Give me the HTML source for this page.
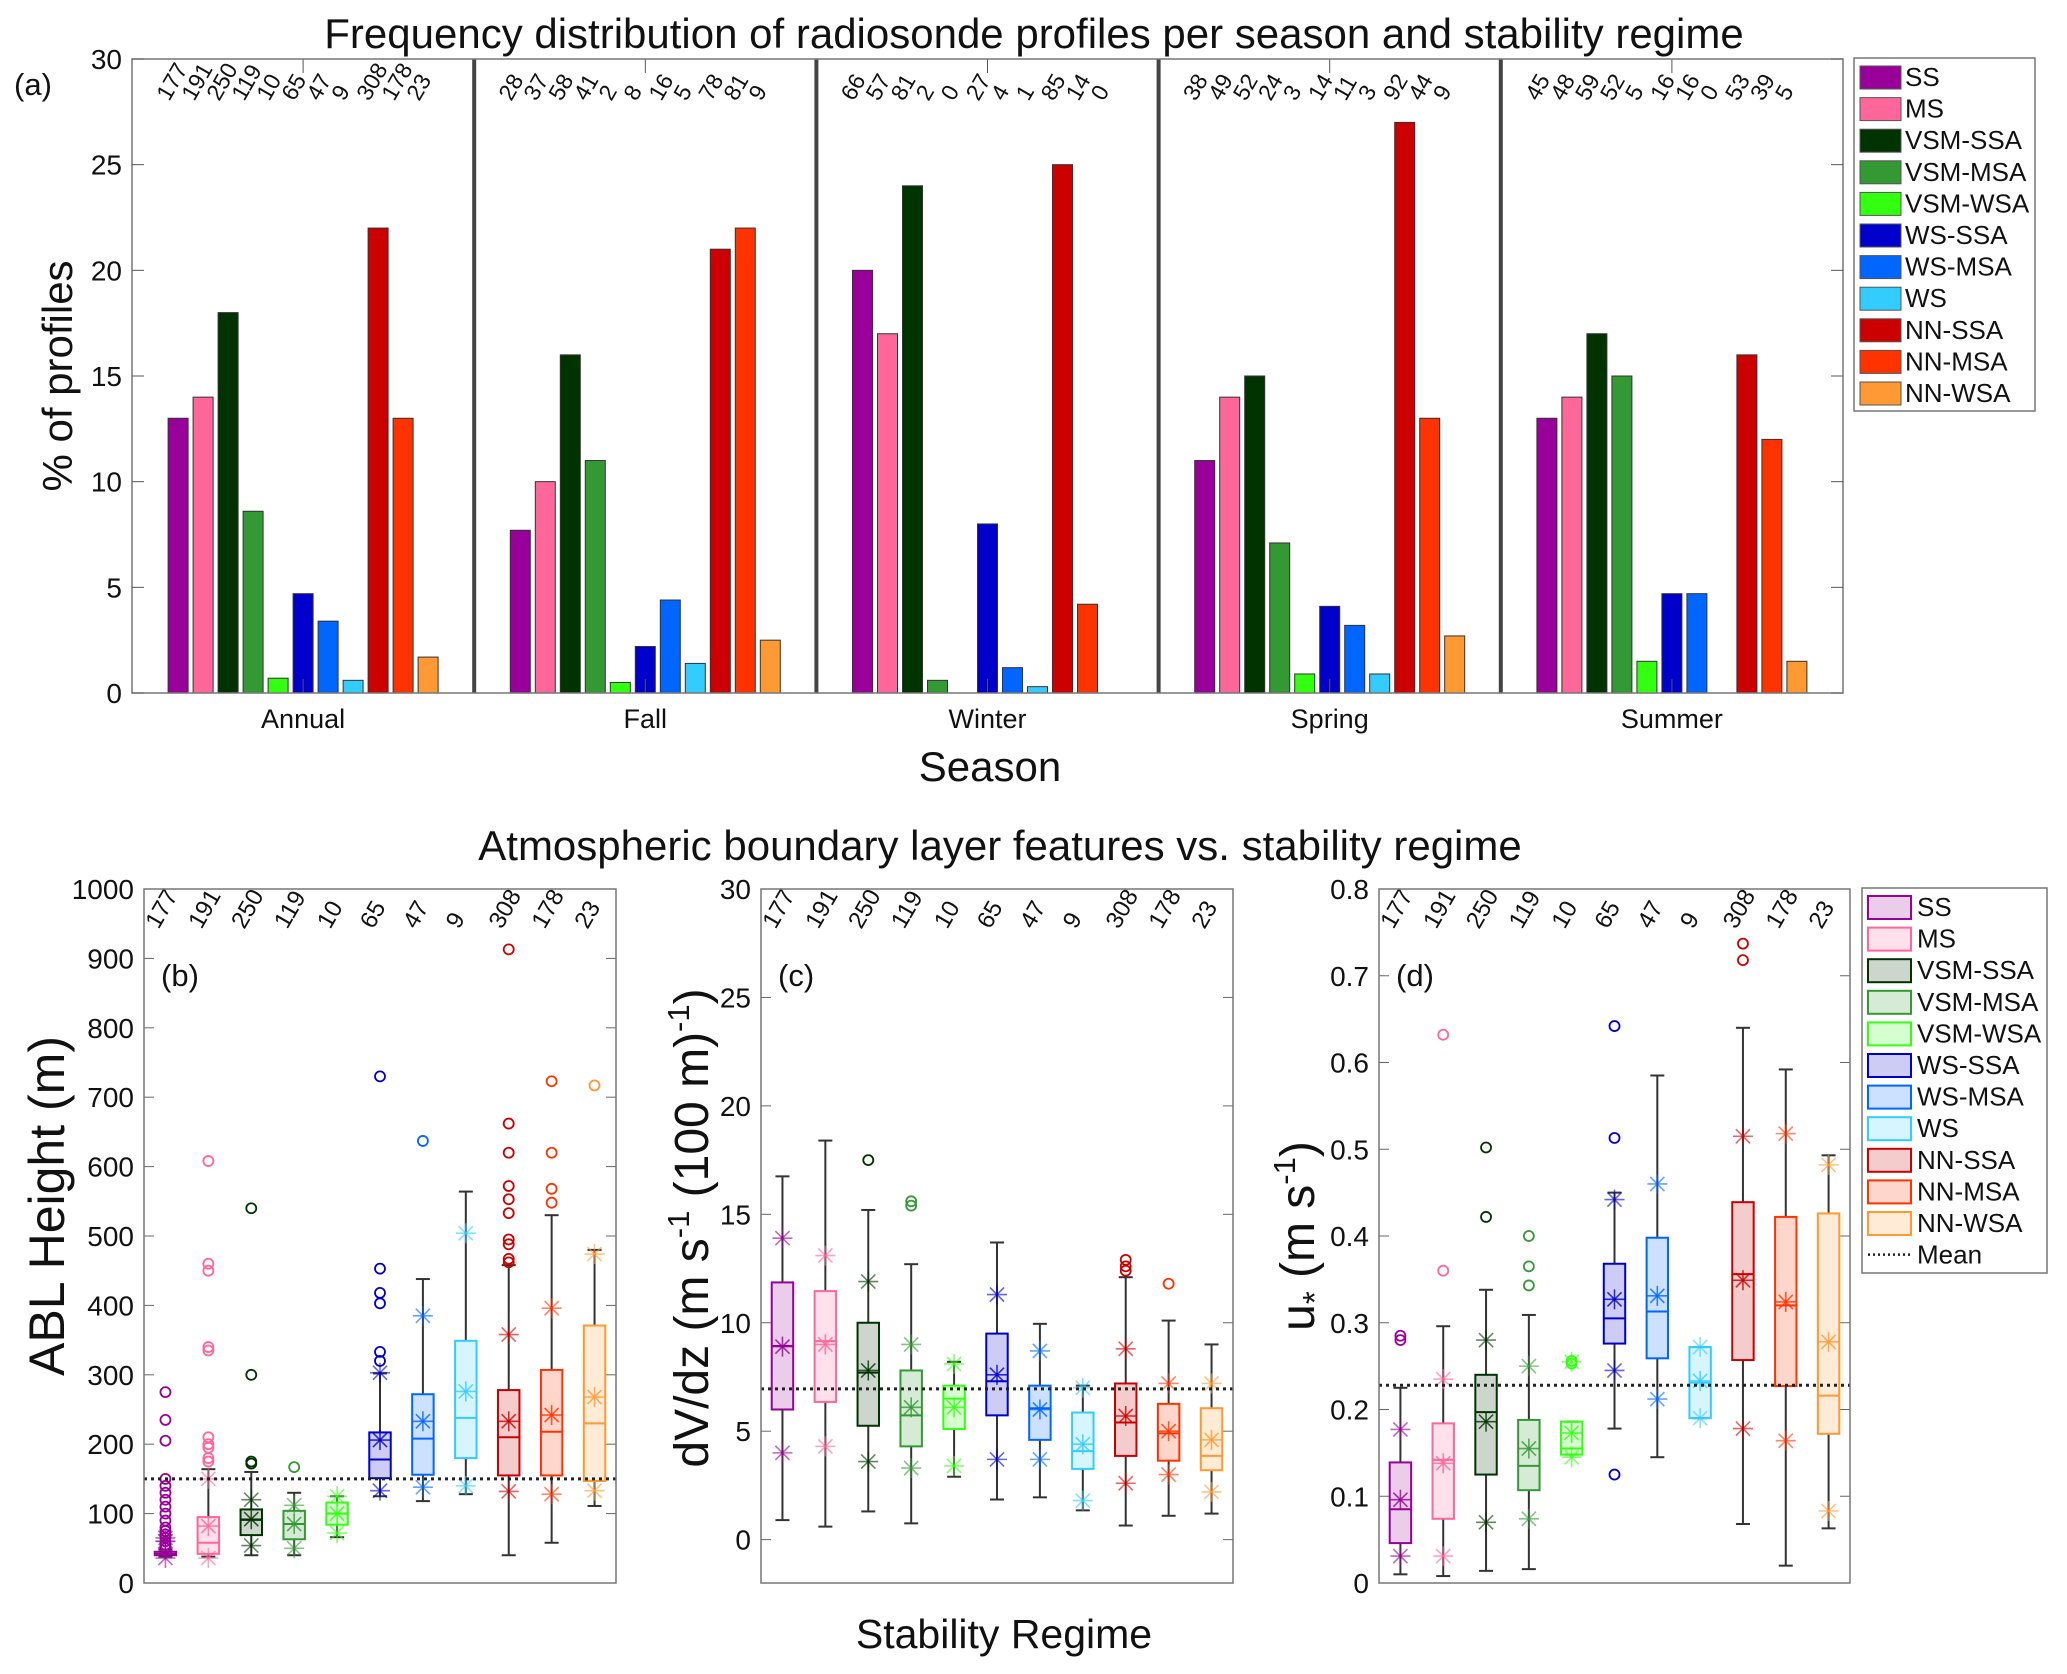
<!DOCTYPE html>
<html><head><meta charset="utf-8"><style>
html,body{margin:0;padding:0;background:#fff;}
svg{display:block;font-family:"Liberation Sans",sans-serif;}
</style></head><body>
<svg id="fig" width="2067" height="1674" viewBox="0 0 2067 1674" xmlns="http://www.w3.org/2000/svg">
<rect width="2067" height="1674" fill="#fff"/>
</svg>
<script>
// ---------- data ----------
const regimes = ["SS","MS","VSM-SSA","VSM-MSA","VSM-WSA","WS-SSA","WS-MSA","WS","NN-SSA","NN-MSA","NN-WSA"];
const colors = ["#990099","#ff6699","#003300","#339933","#33ff11","#0000cc","#0066ff","#33ccff","#cc0000","#ff3300","#ff9933"];
const seasons = ["Annual","Fall","Winter","Spring","Summer"];
const pctAnnual = [13,14,18,8.6,0.7,4.7,3.4,0.6,22,13,1.7];
const pctFall   = [7.7,10,16,11,0.5,2.2,4.4,1.4,21,22,2.5];
const pctWinter = [20,17,24,0.6,0,8,1.2,0.3,25,4.2,0];
const pctSpring = [11,14,15,7.1,0.9,4.1,3.2,0.9,27,13,2.7];
const pctSummer = [13,14,17,15,1.5,4.7,4.7,0,16,12,1.5];
const cntAnnual = [177,191,250,119,10,65,47,9,308,178,23];
const cntFall   = [28,37,58,41,2,8,16,5,78,81,9];
const cntWinter = [66,57,81,2,0,27,4,1,85,14,0];
const cntSpring = [38,49,52,24,3,14,11,3,92,44,9];
const cntSummer = [45,48,59,52,5,16,16,0,53,39,5];
const yTicksA = [0,5,10,15,20,25,30];

// box stats: [whiskerLo, q1, median, q3, whiskerHi]
const ablBox = [[38,40,42,45,48],[38,42,58,95,164],[40,69,91,106,160],[40,63,85,104,130],[66,84,100,116,125],[125,151,178,217,302],[118,156,208,272,438],[128,180,238,349,564],[40,155,210,278,458],[58,155,218,307,530],[111,147,230,371,480]];
const ablStars = [[36,60,65],[36,82,150],[54,92,120],[50,85,112],[72,100,125],[133,206,303],[138,233,385],[140,276,504],[132,233,358],[128,242,396],[133,268,474]];
const ablOut = [[50,55,60,65,70,75,80,90,100,110,120,130,140,150,205,235,275],[175,180,195,200,210,335,340,450,460,608],[172,175,300,540],[167],[],[320,333,403,418,453,730],[637],[],[462,467,488,495,533,553,572,620,662,913],[548,568,620,723],[717]];
const ablMean = 150;
const ablTicks = [0,100,200,300,400,500,600,700,800,900,1000];

const shearBox = [[0.9,6.0,8.93,11.86,16.75],[0.6,6.35,9.15,11.46,18.4],[1.3,5.25,7.7,10.0,15.2],[0.75,4.3,5.73,7.8,12.7],[2.9,5.1,6.5,7.1,8.2],[1.85,5.73,7.3,9.5,13.7],[1.95,4.6,6.06,7.1,9.95],[1.35,3.26,4.08,5.86,7.1],[0.65,3.86,5.4,7.2,12.1],[1.1,3.64,4.9,6.26,10.1],[1.2,3.2,3.86,6.06,9.0]];
const shearStars = [[4.0,8.9,13.9],[4.3,9.0,13.1],[3.6,7.8,11.9],[3.3,6.1,9.0],[3.4,6.1,8.1],[3.7,7.6,11.3],[3.7,6.0,8.7],[1.8,4.4,7.0],[2.6,5.7,8.8],[3.0,5.0,7.2],[2.2,4.6,7.2]];
const shearOut = [[],[],[17.5],[15.4,15.6],[],[],[],[],[12.4,12.6,12.9],[11.8],[]];
const shearMean = 6.95;
const shearTicks = [0,5,10,15,20,25,30];

const ustarBox = [[0.01,0.046,0.085,0.139,0.225],[0.008,0.074,0.142,0.184,0.296],[0.014,0.125,0.197,0.24,0.338],[0.016,0.107,0.135,0.188,0.309],[0.148,0.148,0.155,0.186,0.186],[0.178,0.276,0.305,0.368,0.45],[0.145,0.259,0.313,0.398,0.585],[0.19,0.19,0.231,0.272,0.272],[0.068,0.257,0.356,0.439,0.64],[0.02,0.227,0.32,0.422,0.592],[0.063,0.172,0.216,0.426,0.493]];
const ustarStars = [[0.031,0.096,0.177],[0.031,0.138,0.235],[0.07,0.186,0.28],[0.074,0.155,0.25],[0.145,0.173,0.255],[0.245,0.327,0.442],[0.212,0.331,0.46],[0.19,0.233,0.272],[0.178,0.349,0.515],[0.164,0.324,0.518],[0.083,0.278,0.482]];
const ustarOut = [[0.28,0.285],[0.36,0.632],[0.422,0.502],[0.343,0.365,0.40],[0.253,0.256],[0.125,0.513,0.642],[],[],[0.718,0.737],[],[]];
const ustarMean = 0.228;
const ustarTicks = [0,0.1,0.2,0.3,0.4,0.5,0.6,0.7,0.8];

// ---------- helpers ----------
const NS = "http://www.w3.org/2000/svg";
const svg = document.getElementById("fig");
function mk(tag, attrs, parent, text){
  const e = document.createElementNS(NS, tag);
  for (const k in attrs) e.setAttribute(k, attrs[k]);
  if (text !== undefined) e.textContent = text;
  (parent || svg).appendChild(e);
  return e;
}
function grp(name){
  const g = document.createElementNS(NS,"g");
  
  
  svg.appendChild(g);
  return g;
}

// ---------- panel (a) ----------
const A = {l:132, r:1843, t:59, b:693, ymax:30};
const gA = grp('panel-a');
const yA = v => A.b - (v / A.ymax) * (A.b - A.t);
const groupW = (A.r - A.l) / seasons.length;
const slot = 25, barW = 20;
const pctAll = [pctAnnual,pctFall,pctWinter,pctSpring,pctSummer];
const cntAll = [cntAnnual,cntFall,cntWinter,cntSpring,cntSummer];

let t = mk('text',{x:1034,y:48,'font-size':42,'text-anchor':'middle',fill:'#111'},gA,'Frequency distribution of radiosonde profiles per season and stability regime');
 

seasons.forEach((s, gi) => {
  const g0 = A.l + gi * groupW;
  const cx = g0 + groupW/2;
  const start = cx - (regimes.length * slot)/2;
  pctAll[gi].forEach((v, i) => {
    const x = start + i*slot + (slot-barW)/2;
    if (v > 0) {
      const r = mk('rect',{x:x,y:yA(v),width:barW,height:A.b - yA(v),fill:colors[i],stroke:'#333','stroke-width':1},gA);
      
      
    }
    const tx = start + i*slot + slot/2 - 9, ty = 102;
    const c = mk('text',{x:tx,y:ty,'font-size':23,fill:'#111',transform:`rotate(-60 ${tx} ${ty})`},gA,String(cntAll[gi][i]));
     
  });
  mk('line',{x1:cx,y1:A.t,x2:cx,y2:A.t+14,stroke:'#555','stroke-width':1},gA);
  mk('line',{x1:cx,y1:A.b,x2:cx,y2:A.b-14,stroke:'#555','stroke-width':1},gA);
  const sl = mk('text',{x:cx,y:728,'font-size':27,'text-anchor':'middle',fill:'#111'},gA,s);
   
  if (gi > 0) {
    const sep = mk('line',{x1:g0,y1:A.t,x2:g0,y2:A.b,stroke:'#444','stroke-width':4},gA);
     
  }
});
const frA = mk('rect',{x:A.l,y:A.t,width:A.r-A.l,height:A.b-A.t,fill:'none',stroke:'#777','stroke-width':1.5},gA);
 
yTicksA.forEach(v => {
  const y = yA(v);
  mk('line',{x1:A.l,y1:y,x2:A.l+12,y2:y,stroke:'#555'},gA);
  mk('line',{x1:A.r,y1:y,x2:A.r-12,y2:y,stroke:'#555'},gA);
  const tl = mk('text',{x:A.l-10,y:y+10,'font-size':28,'text-anchor':'end',fill:'#111'},gA,String(v));
   
});
t = mk('text',{x:72,y:376,'font-size':42,'text-anchor':'middle',fill:'#111',transform:'rotate(-90 72 376)'},gA,'% of profiles');
 
t = mk('text',{x:990,y:781,'font-size':42,'text-anchor':'middle',fill:'#111'},gA,'Season');
 
t = mk('text',{x:14,y:95,'font-size':31,fill:'#111'},gA,'(a)');
 

// legend a
const gLA = grp('legend-a');
mk('rect',{x:1854,y:58,width:181,height:353,fill:'#fff',stroke:'#777','stroke-width':1.5},gLA);
regimes.forEach((r,i) => {
  const cy = 77 + i*31.6;
  const sw = mk('rect',{x:1860,y:cy-11,width:41,height:23,fill:colors[i],stroke:'#555'},gLA);
   
  const lt = mk('text',{x:1905,y:cy+9,'font-size':26,fill:'#111'},gLA,r);
   
});

// ---------- box panels ----------
t = mk('text',{x:1000,y:860,'font-size':42,'text-anchor':'middle',fill:'#111'},svg,'Atmospheric boundary layer features vs. stability regime');
 
t = mk('text',{x:1004,y:1648,'font-size':41,'text-anchor':'middle',fill:'#111'},svg,'Stability Regime');
 

function star(g, x, y, r, col, op, sw){
  for (let k=0;k<4;k++){
    const a = k*Math.PI/4;
    const dx = r*Math.cos(a), dy = r*Math.sin(a);
    mk('line',{x1:x-dx,y1:y-dy,x2:x+dx,y2:y+dy,stroke:col,'stroke-width':sw,'stroke-opacity':op},g);
  }
}

function boxPanel(P){
  const g = grp(P.name);
  const yS = v => P.b - (v - P.ymin)/(P.ymax - P.ymin)*(P.b - P.t);
  const cw = (P.r - P.l)/regimes.length;
  const xS = i => P.l + cw*(i+0.5);
  const hw = cw*0.25;
  P.ticks.forEach(v => {
    const y = yS(v);
    mk('line',{x1:P.l,y1:y,x2:P.l+10,y2:y,stroke:'#666'},g);
    mk('line',{x1:P.r,y1:y,x2:P.r-10,y2:y,stroke:'#666'},g);
    const tl = mk('text',{x:P.l-10,y:y+10,'font-size':28,'text-anchor':'end',fill:'#111'},g,P.fmt(v));
     
  });
  P.box.forEach((b,i) => {
    const x = xS(i), col = colors[i];
    const gb = document.createElementNS(NS,'g');
    
    
    g.appendChild(gb);
    mk('line',{x1:x,y1:yS(b[0]),x2:x,y2:yS(b[1]),stroke:'#333','stroke-width':2},gb);
    mk('line',{x1:x,y1:yS(b[3]),x2:x,y2:yS(b[4]),stroke:'#333','stroke-width':2},gb);
    mk('line',{x1:x-7,y1:yS(b[0]),x2:x+7,y2:yS(b[0]),stroke:'#333','stroke-width':2},gb);
    mk('line',{x1:x-7,y1:yS(b[4]),x2:x+7,y2:yS(b[4]),stroke:'#333','stroke-width':2},gb);
    mk('rect',{x:x-hw,y:yS(b[3]),width:2*hw,height:Math.max(1,yS(b[1])-yS(b[3])),fill:col,'fill-opacity':0.2,stroke:col,'stroke-width':2},gb);
    mk('line',{x1:x-hw,y1:yS(b[2]),x2:x+hw,y2:yS(b[2]),stroke:col,'stroke-width':2},gb);
    const st = P.stars[i];
    star(gb,x,yS(st[0]),10,col,0.6,1.6);
    star(gb,x,yS(st[1]),10,col,0.8,1.6);
    star(gb,x,yS(st[2]),10,col,0.6,1.6);
    P.out[i].forEach(o => {
      const c = mk('circle',{cx:x,cy:yS(o),r:5,fill:'none',stroke:col,'stroke-width':1.8},gb);
       
    });
    const tx = x - 7, ty = 930;
    const cl = mk('text',{x:tx,y:ty,'font-size':24,fill:'#111',transform:`rotate(-60 ${tx} ${ty})`},g,String(cntAnnual[i]));
     
  });
  const ml = mk('line',{x1:P.l,y1:yS(P.mean),x2:P.r,y2:yS(P.mean),stroke:'#222','stroke-width':3,'stroke-dasharray':'3 4'},g);
   
  const fr = mk('rect',{x:P.l,y:P.t,width:P.r-P.l,height:P.b-P.t,fill:'none',stroke:'#777','stroke-width':1.5},g);
   
  const pl = mk('text',{x:P.l+17,y:986,'font-size':31,fill:'#111'},g,P.letter);
   
  return g;
}

boxPanel({name:'panel-b',l:144,r:616,t:889,b:1583,ymin:0,ymax:1000,ticks:ablTicks,fmt:v=>String(v),box:ablBox,stars:ablStars,out:ablOut,mean:ablMean,letter:'(b)'});
boxPanel({name:'panel-c',l:761,r:1233,t:889,b:1583,ymin:-2,ymax:30,ticks:shearTicks,fmt:v=>String(v),box:shearBox,stars:shearStars,out:shearOut,mean:shearMean,letter:'(c)'});
boxPanel({name:'panel-d',l:1379,r:1850,t:889,b:1583,ymin:0,ymax:0.8,ticks:ustarTicks,fmt:v=>v===0?'0':v.toFixed(1),box:ustarBox,stars:ustarStars,out:ustarOut,mean:ustarMean,letter:'(d)'});

// y titles
t = mk('text',{x:64,y:1206,'font-size':50,'text-anchor':'middle',fill:'#111',transform:'rotate(-90 64 1206)'},svg,'ABL Height (m)');
 
t = mk('text',{x:708,y:1228,'font-size':48,'text-anchor':'middle',fill:'#111',transform:'rotate(-90 708 1228)'},svg);
 
t.innerHTML = 'dV/dz (m s<tspan dy="-19" font-size="31">-1</tspan><tspan dy="19"> (100 m)</tspan><tspan dy="-19" font-size="31">-1</tspan><tspan dy="19">)</tspan>';
t = mk('text',{x:1314,y:1236,'font-size':48,'text-anchor':'middle',fill:'#111',transform:'rotate(-90 1314 1236)'},svg);
 
t.innerHTML = 'u<tspan dy="12" font-size="33">*</tspan><tspan dy="-12"> (m s</tspan><tspan dy="-19" font-size="31">-1</tspan><tspan dy="19">)</tspan>';

// legend d
const gLD = grp('legend-d');
mk('rect',{x:1862,y:888,width:185,height:385,fill:'#fff',stroke:'#777','stroke-width':1.5},gLD);
regimes.forEach((r,i) => {
  const cy = 907 + i*31.6;
  const sw = mk('rect',{x:1868,y:cy-11,width:43,height:23,fill:colors[i],'fill-opacity':0.2,stroke:colors[i],'stroke-width':2},gLD);
   
  const lt = mk('text',{x:1917,y:cy+9,'font-size':26,fill:'#111'},gLD,r);
   
});
{
  const cy = 907 + 11*31.6;
  const ln = mk('line',{x1:1868,y1:cy,x2:1911,y2:cy,stroke:'#222','stroke-width':2.5,'stroke-dasharray':'2 3'},gLD);
   
  const lt = mk('text',{x:1917,y:cy+9,'font-size':26,fill:'#111'},gLD,'Mean');
   
}
</script>
</body></html>
